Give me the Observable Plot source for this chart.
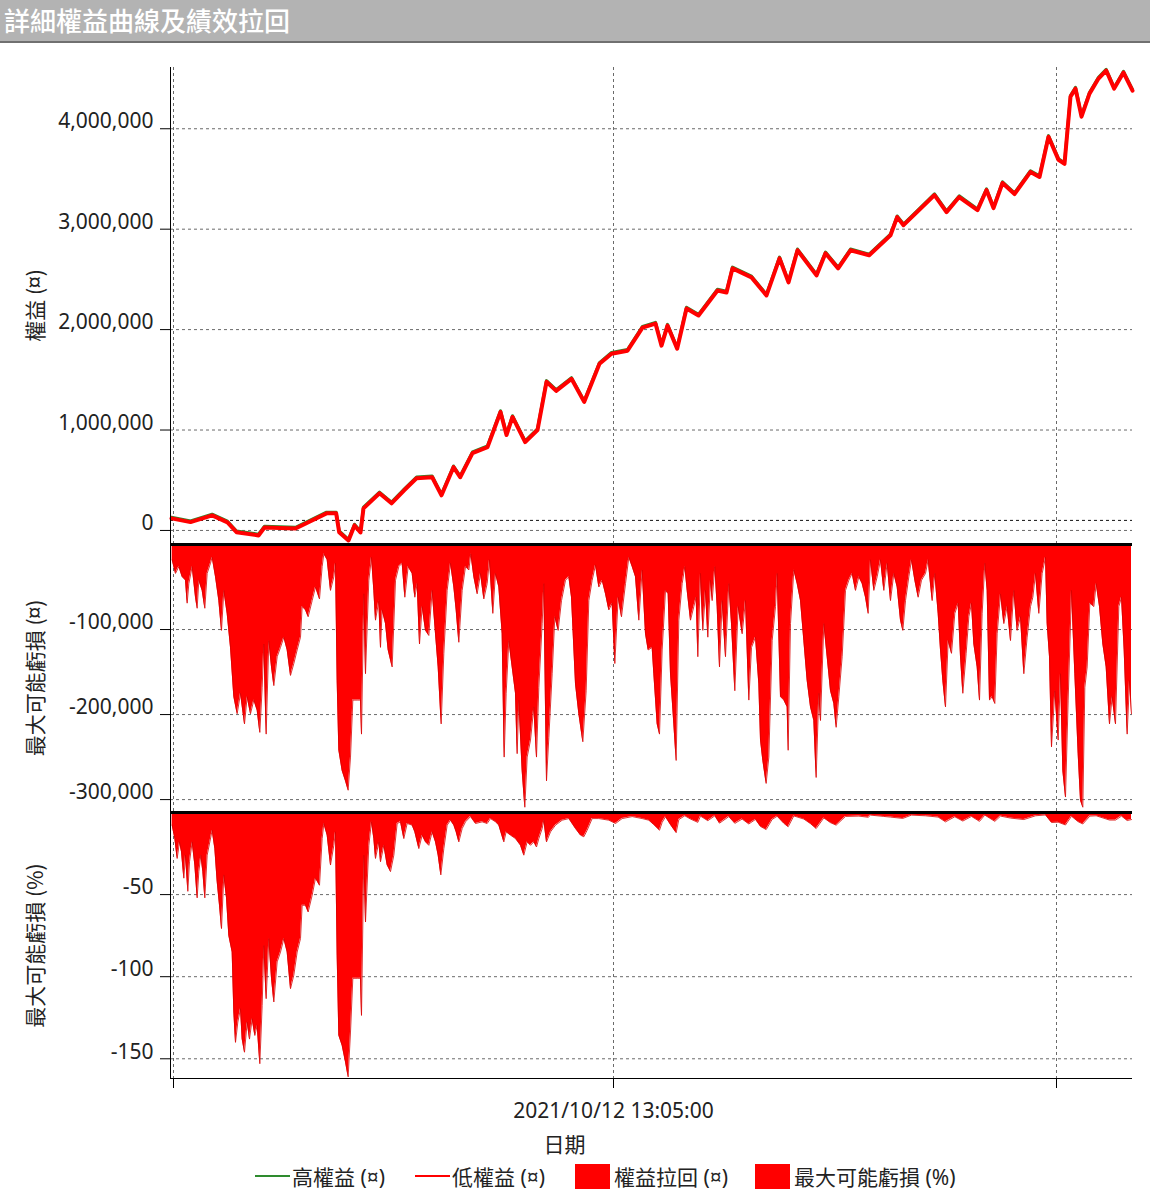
<!DOCTYPE html>
<html>
<head>
<meta charset="utf-8">
<script src="https://cdn.jsdelivr.net/npm/d3@7"></script>
<script src="https://cdn.jsdelivr.net/npm/@observablehq/plot@0.6"></script>
<style>
  body { margin: 0; background: #fff; }
  #wrap { position: relative; width: 1150px; height: 1194px; overflow: hidden; background: #fff;
          font-family: "Noto Sans", "Noto Sans CJK TC", sans-serif; }
  #title { position: absolute; left: 0; top: 0; width: 1150px; height: 43px; box-sizing: border-box;
           background: #b3b3b3; border-bottom: 2px solid #707070; color: #fff;
           font-family: "Noto Sans CJK TC", sans-serif; font-size: 26px; font-weight: 500;
           line-height: 40px; padding-left: 4px; }
  .panel { position: absolute; left: 0; }
  .panel svg { overflow: visible; }
  .lg { position: absolute; top: 1158px; height: 36px; display: flex; align-items: center;
        font-family: "Noto Sans", "Noto Sans CJK TC", sans-serif; font-size: 21px; color: #222; white-space: nowrap; }
  .lg .ln { width: 35px; height: 2px; margin-right: 2px; }
  .lg .sq { width: 35px; height: 25px; margin-right: 4px; }
</style>
</head>
<body>
<div id="wrap">
  <div id="title"></div>
</div>
<script>
// ---------------- data ----------------
const chartTitle = "詳細權益曲線及績效拉回";
const yTitles = ["權益 (¤)", "最大可能虧損 (¤)", "最大可能虧損 (%)"];
const xTitle = "日期";
const legendLabels = ["高權益 (¤)", "低權益 (¤)", "權益拉回 (¤)", "最大可能虧損 (%)"];

// x = bar number along the test period
const xDomain = [0, 2886];
const xTickIdx = [9, 1329, 2658];
const xTickLabels = ["", "2021/10/12 13:05:00", ""];

const startCapital = 100000;
const eqTicks = [0, 1000000, 2000000, 3000000, 4000000];
const ddTicks = [-100000, -200000, -300000];
const pctTicks = [-50, -100, -150];

const eqIdx = [3,60,125,171,198,264,282,375,468,497,506,534,552,570,579,627,663,701,738,785,813,849,869,906,951,990,1008,1026,1064,1101,1128,1157,1203,1241,1287,1323,1371,1416,1455,1473,1491,1520,1548,1584,1641,1668,1686,1743,1788,1827,1854,1881,1938,1965,2003,2040,2096,2160,2180,2199,2292,2328,2366,2421,2448,2469,2496,2532,2580,2607,2634,2664,2682,2700,2715,2733,2757,2784,2807,2831,2859,2886];
const lowEquity = [120000,83000,150000,80000,-17000,-50000,30000,20000,170000,170000,-17000,-100000,50000,-20000,220000,370000,270000,400000,520000,530000,350000,630000,530000,770000,830000,1180000,950000,1130000,880000,1000000,1480000,1390000,1510000,1280000,1660000,1760000,1790000,2020000,2060000,1840000,2040000,1810000,2210000,2140000,2390000,2370000,2610000,2520000,2340000,2710000,2470000,2790000,2540000,2760000,2610000,2790000,2740000,2940000,3120000,3040000,3340000,3170000,3320000,3190000,3390000,3210000,3460000,3350000,3570000,3520000,3920000,3690000,3650000,4320000,4400000,4120000,4350000,4500000,4580000,4400000,4560000,4380000];
const highEquity = [120000,83000,150000,80000,-17000,-50000,30000,20000,170000,170000,-17000,-100000,50000,-20000,220000,370000,270000,400000,520000,530000,350000,630000,530000,770000,830000,1180000,950000,1130000,880000,1000000,1480000,1390000,1510000,1280000,1660000,1760000,1790000,2020000,2060000,1840000,2040000,1810000,2210000,2140000,2390000,2370000,2610000,2520000,2340000,2710000,2470000,2790000,2540000,2760000,2610000,2790000,2740000,2940000,3120000,3040000,3340000,3170000,3320000,3190000,3390000,3210000,3460000,3350000,3570000,3520000,3920000,3690000,3650000,4320000,4400000,4120000,4350000,4500000,4580000,4400000,4560000,4380000];

const ddIdx = [5,15,25,35,45,50,55,65,75,80,85,95,103,110,120,125,135,145,153,160,170,180,190,200,210,222,230,240,250,260,268,275,280,287,295,303,310,320,330,340,350,360,370,380,390,395,405,413,425,435,447,455,460,470,480,490,495,500,505,515,525,533,540,547,560,570,573,580,585,595,603,610,615,625,630,635,645,653,665,675,685,695,703,713,725,733,740,747,755,765,775,785,795,803,812,820,830,840,850,857,865,875,885,895,901,910,920,930,940,950,957,967,975,985,995,1001,1007,1015,1025,1035,1040,1045,1055,1063,1070,1080,1090,1098,1105,1115,1120,1128,1135,1145,1153,1163,1173,1185,1195,1203,1215,1225,1237,1247,1255,1265,1275,1285,1295,1305,1315,1325,1333,1343,1353,1365,1375,1385,1395,1405,1415,1425,1433,1445,
1450,1460,1467,1475,1485,1493,1500,1510,1517,1525,1535,1543,1550,1560,1570,1577,1582,1590,1597,1605,1612,1620,1625,1633,1640,1647,1655,1665,1675,1683,1693,1703,1715,1725,1735,1743,1755,1765,1770,1777,1787,1795,1805,1815,1820,1830,1840,1850,1853,1860,1870,1880,1890,1900,1910,1920,1930,1937,1945,1950,1960,1970,1980,1990,1997,2005,2015,2025,2035,2045,2055,2065,2075,2085,2093,2100,2110,2120,2130,2140,2150,2160,2170,2180,2190,2197,2205,2215,2223,2233,2243,2253,2265,2273,2285,2293,2303,2310,2317,2325,2333,2343,2353,2363,2370,2377,2387,2395,2403,2410,2420,2427,2435,2443,2450,2457,2465,2473,2480,2490,2500,2510,2520,2530,2540,2550,2560,2570,2580,2587,2595,2605,2615,2625,2630,2637,2643,2653,2663,2670,2677,2685,2693,2703,2713,2723,2730,2737,2743,2750,2758,2770,2777,2787,2797,2807,2817,2825,2835,2845,2853,2861,2870,2877,2883];
const ddVal = [-18000,-34000,-26000,-38000,-42000,-69000,-46000,-26000,-62000,-75000,-42000,-54000,-75000,-34000,-22000,-15000,-38000,-66000,-101000,-54000,-81000,-121000,-179000,-199000,-175000,-211000,-179000,-199000,-183000,-195000,-221000,-168000,-117000,-223000,-113000,-144000,-166000,-132000,-121000,-109000,-124000,-154000,-140000,-124000,-109000,-73000,-77000,-85000,-66000,-50000,-64000,-26000,-11000,-18000,-54000,-38000,-22000,-160000,-242000,-266000,-278000,-289000,-250000,-183000,-183000,-183000,-223000,-58000,-152000,-42000,-15000,-54000,-89000,-66000,-121000,-77000,-93000,-124000,-144000,-42000,-26000,-22000,-62000,-26000,-34000,-62000,-46000,-117000,-73000,-101000,-107000,-54000,-105000,-144000,-211000,-128000,-54000,-22000,-50000,-77000,-115000,-54000,-26000,-30000,-11000,-38000,-58000,-34000,-64000,-46000,-18000,-81000,-34000,-50000,-105000,-250000,-175000,-113000,-144000,-175000,-246000,-183000,-266000,-309000,-250000,-230000,-191000,-250000,-168000,-93000,-46000,-278000,-227000,-152000,-85000,-101000,-66000,-42000,-38000,-62000,-164000,-199000,-232000,-172000,-66000,-42000,-24000,-50000,-42000,-58000,-77000,-69000,-140000,-62000,-85000,-46000,-15000,-26000,-38000,-89000,-30000,-105000,-124000,-121000,
-152000,-211000,-223000,-124000,-54000,-58000,-152000,-211000,-254000,-89000,-46000,-26000,-54000,-89000,-73000,-62000,-132000,-34000,-101000,-54000,-109000,-42000,-66000,-26000,-73000,-144000,-66000,-132000,-46000,-93000,-172000,-73000,-105000,-66000,-183000,-121000,-109000,-164000,-230000,-254000,-281000,-250000,-113000,-73000,-34000,-179000,-183000,-191000,-242000,-93000,-30000,-46000,-66000,-113000,-160000,-191000,-207000,-274000,-175000,-207000,-93000,-132000,-172000,-187000,-215000,-179000,-132000,-54000,-42000,-34000,-54000,-38000,-46000,-62000,-81000,-18000,-54000,-38000,-18000,-54000,-22000,-66000,-34000,-50000,-89000,-101000,-66000,-38000,-18000,-42000,-62000,-42000,-34000,-18000,-66000,-34000,-81000,-124000,-160000,-191000,-113000,-128000,-81000,-69000,-132000,-175000,-128000,-85000,-69000,-117000,-144000,-183000,-81000,-22000,-54000,-183000,-179000,-187000,-105000,-58000,-93000,-73000,-113000,-54000,-101000,-85000,-152000,-109000,-73000,-62000,-34000,-81000,-34000,-15000,-93000,-132000,-238000,-172000,-230000,-152000,-266000,-297000,-183000,-54000,-152000,-246000,-301000,-309000,-168000,-144000,-69000,-73000,-46000,-73000,-117000,-144000,-211000,-179000,-211000,-73000,-62000,-124000,-223000,-160000,-199000];

const pctIdx = [5,13,20,27,33,40,45,52,57,65,73,80,85,91,97,103,110,118,125,133,140,147,153,160,168,175,185,190,195,202,210,215,222,230,237,245,253,260,268,275,280,287,295,303,310,320,330,340,350,360,370,380,390,395,405,413,425,435,447,455,460,470,480,490,495,500,505,515,525,533,540,547,560,570,573,580,585,595,603,610,615,625,630,640,650,660,670,680,690,700,710,725,733,745,755,765,775,785,795,803,811,820,830,840,850,857,865,875,885,900,915,935,950,960,975,985,1000,1007,1020,1035,1050,1060,1070,1080,1090,1098,1105,1115,1120,1128,1140,1155,1175,1195,1215,1230,1240,1250,1265,1285,1315,1335,1355,1385,1415,1435,
1450,1467,1475,1485,1500,1517,1525,1543,1560,1582,1590,1612,1633,1647,1675,1693,1715,1735,1755,1770,1787,1805,1820,1840,1853,1870,1900,1920,1937,1960,1980,1997,2025,2065,2093,2100,2140,2160,2197,2223,2265,2303,2325,2353,2377,2403,2427,2443,2473,2490,2520,2560,2595,2625,2643,2663,2685,2703,2723,2737,2758,2777,2817,2835,2853,2870,2883];
const pctVal = [-7.7,-15.9,-28,-17.9,-24,-40,-26,-48,-30,-17.9,-32,-52,-36,-26,-36,-52,-26,-17.9,-10.8,-22,-42,-56.5,-70.7,-38,-52,-75,-85,-121.5,-140,-127.6,-119.5,-138,-146,-127.6,-138,-125.6,-135.8,-129.7,-153,-117.5,-81,-113.4,-76.8,-101,-115.4,-91,-85,-76.8,-85,-107.3,-99,-85,-76.8,-56.5,-56.5,-60.6,-50.4,-40,-44.3,-15.9,-6.7,-13.8,-32,-20,-11.8,-87,-135.8,-141.9,-152,-161,-133.7,-101,-101,-101,-123.6,-26,-66.7,-20,-5.7,-15.9,-28,-17.9,-30,-20,-32,-36,-26,-6.7,-5.7,-15.9,-6.7,-7.7,-11.8,-22,-13.8,-17.9,-20,-11.8,-17.9,-26,-38,-22,-7.7,-4.7,-7.7,-11.8,-17.9,-9.8,-5.7,-2.5,-6.7,-5.7,-6.7,-3.7,-5.7,-7.7,-17.9,-11.8,-13.8,-15.9,-20,-26,-17.9,-20,-17.9,-21,-15.9,-9.8,-4.7,-17.9,-11.8,-7.7,-4.7,-3.7,-9.8,-13.8,-14.8,-10.8,-3.7,-3.7,-4.7,-6.7,-3.7,-2.5,-3.7,-4.7,
-7.4,-10.8,-6,-2.6,-7.4,-12.3,-4.3,-2,-4,-6,-2.2,-5,-2,-6.5,-2.5,-6.6,-4,-7,-4.2,-8.5,-10.4,-4.2,-2.3,-6.6,-8.7,-2.1,-4,-6.8,-9.8,-3.3,-6.2,-7.7,-2.4,-2.2,-2.9,-1.6,-2.4,-2.8,-3.6,-1.6,-2,-2.8,-5.7,-2.6,-5.2,-2.4,-5.4,-1.6,-5.4,-2.2,-3.4,-4.3,-2,-1.5,-6.1,-5.9,-7.6,-2.3,-5.6,-7,-2.2,-2,-4.6,-4.6,-2.2,-4.9,-4.3];

// ---------------- build ----------------
const FONT = '"Noto Sans", "Noto Sans CJK TC", sans-serif';
const CJK = '"Noto Sans CJK TC", "Noto Sans", sans-serif';
const fmt = d => d.toLocaleString("en-US");
const xLabelMap = new Map(xTickIdx.map((d, i) => [d, xTickLabels[i]]));
const gridStyle = {stroke: "#6a6a6a", strokeOpacity: 1, strokeDasharray: "3,3", strokeWidth: 1};
const eqData = eqIdx.map((i, k) => ({i, low: lowEquity[k], high: highEquity[k]}));
const ddData = ddIdx.map((i, k) => ({i, v: ddVal[k]}));
const pctData = pctIdx.map((i, k) => ({i, v: pctVal[k]}));

document.getElementById("title").textContent = chartTitle;

const common = {
  width: 1150, marginLeft: 170, marginRight: 18,
  x: {domain: xDomain, axis: null},
  style: {background: "transparent", overflow: "visible", fontFamily: FONT, fontSize: "21px", color: "#222"}
};

function yMarks(ticks, title) {
  return [
    Plot.axisY({ticks, tickSize: 10, tickFormat: () => "", label: null, stroke: "#000"}),
    Plot.text(ticks, {y: d => d, frameAnchor: "left", dx: -17, dy: -7, textAnchor: "end",
                      text: d => fmt(d), fontSize: 21, fill: "#222"}),
    Plot.text([title], {frameAnchor: "left", dx: -134, rotate: -90, textAnchor: "middle", text: d => d,
                        fontSize: 21, fill: "#222", fontFamily: CJK}),
    Plot.ruleX([xDomain[0]], {stroke: "#000", strokeWidth: 1})
  ];
}

const p1 = Plot.plot({
  ...common, height: 504, marginTop: 23, marginBottom: 5,
  y: {domain: [-130000, 4610000], axis: null},
  marks: [
    Plot.gridY(eqTicks, gridStyle),
    Plot.gridX(xTickIdx, gridStyle),
    Plot.ruleY([startCapital], {stroke: "#111", strokeDasharray: "3,3"}),
    Plot.line(eqData, {x: "i", y: "high", stroke: "#2e8b2e", strokeWidth: 3, dy: -1.2}),
    Plot.line(eqData, {x: "i", y: "low", stroke: "#ff0000", strokeWidth: 4}),
    ...yMarks(eqTicks, yTitles[0])
  ]
});

const p2 = Plot.plot({
  ...common, height: 282, marginTop: 10, marginBottom: 5,
  y: {domain: [-314000, 0], axis: null},
  marks: [
    Plot.gridY(ddTicks, gridStyle),
    Plot.gridX(xTickIdx, gridStyle),
    Plot.areaY(ddData, {x: "i", y: "v", fill: "#ff0000"}),
    Plot.line(ddData, {x: "i", y: "v", stroke: "#d80000", strokeWidth: 0.8}),
    Plot.ruleY([0], {stroke: "#000", strokeWidth: 3}),
    ...yMarks(ddTicks, yTitles[1])
  ]
});

const p3 = Plot.plot({
  ...common, height: 356, marginTop: 10, marginBottom: 80,
  y: {domain: [-162, 0], axis: null},
  marks: [
    Plot.gridY(pctTicks, gridStyle),
    Plot.gridX(xTickIdx, gridStyle),
    Plot.areaY(pctData, {x: "i", y: "v", fill: "#ff0000"}),
    Plot.line(pctData, {x: "i", y: "v", stroke: "#d80000", strokeWidth: 0.8}),
    Plot.ruleY([0], {stroke: "#000", strokeWidth: 3}),
    Plot.ruleY([-162], {stroke: "#000", strokeWidth: 1}),
    Plot.axisX({ticks: xTickIdx, tickSize: 10, tickPadding: 15, label: null, stroke: "#000",
                tickFormat: d => xLabelMap.get(d) ?? "", fontSize: 21, fill: "#222"}),
    Plot.text([xTitle], {frameAnchor: "bottom", dx: -87, dy: 73, text: d => d, fontSize: 21, fill: "#222",
                         fontFamily: CJK}),
    ...yMarks(pctTicks, yTitles[2])
  ]
});

const wrap = document.getElementById("wrap");
[[p1, 44], [p2, 534], [p3, 802]].forEach(([svg, top]) => {
  const d = document.createElement("div");
  d.className = "panel";
  d.style.top = top + "px";
  d.appendChild(svg);
  wrap.appendChild(d);
});

// legend
const legendKinds = [["ln", "#2e8b2e"], ["ln", "#ff0000"], ["sq", "#ff0000"], ["sq", "#ff0000"]];
const legendLeft = [255, 415, 575, 755];
legendLabels.forEach((lab, k) => {
  const it = document.createElement("div");
  it.className = "lg";
  it.style.left = legendLeft[k] + "px";
  const sw = document.createElement("span");
  sw.className = legendKinds[k][0];
  sw.style.background = legendKinds[k][1];
  const tx = document.createElement("span");
  tx.textContent = lab;
  it.appendChild(sw); it.appendChild(tx);
  wrap.appendChild(it);
});
</script>
</body>
</html>
